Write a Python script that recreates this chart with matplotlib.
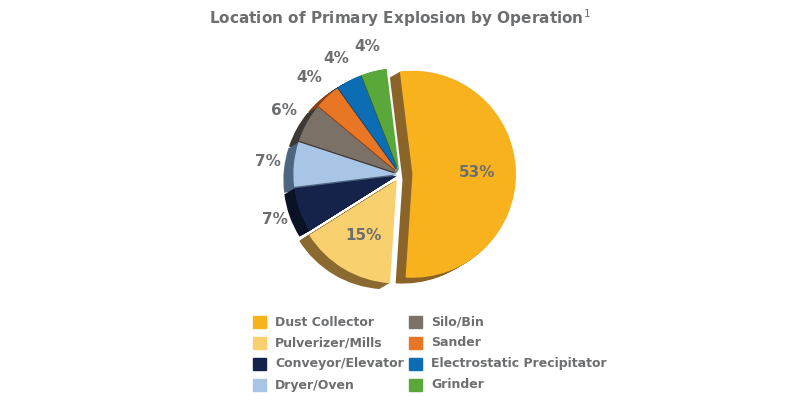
import matplotlib
matplotlib.use("Agg")
import matplotlib.pyplot as plt
import numpy as np
from matplotlib.patches import Rectangle

categories = ["Dust Collector", "Pulverizer/Mills", "Conveyor/Elevator", "Dryer/Oven",
              "Silo/Bin", "Sander", "Electrostatic Precipitator", "Grinder"]
values = [53, 15, 7, 7, 6, 4, 4, 4]
colors = ["#F7B21E", "#F9D06E", "#15224A", "#A9C5E6", "#7B7167", "#E97625", "#0C6DB5", "#5BA83A"]
dark = ["#8A6428", "#8A6A30", "#0B1226", "#4E6580", "#3E3934", "#8A4214", "#08406A", "#2F6320"]
explode = [0.12, 0.06, 0.03, 0.03, 0.03, 0.03, 0.03, 0.03]

fig = plt.figure(figsize=(8, 4), dpi=100)
fig.text(0.5, 0.955, "Location of Primary Explosion by Operation$^1$", ha="center", va="center",
         fontsize=11, fontweight="bold", color="#6d6e70")
ax = fig.add_axes([0.25, 0.24, 0.5, 0.66])
ax.set_aspect("equal")
start = 97
# depth layer
for k in range(8, 0, -1):
    ax.pie(values, colors=dark, explode=explode, startangle=start, counterclock=False,
           center=(-0.012 * k, -0.007 * k), radius=1, wedgeprops=dict(linewidth=0))
ax.pie(values, colors=colors, explode=explode, startangle=start, counterclock=False,
       radius=1, wedgeprops=dict(linewidth=0))
cum = np.cumsum([0] + values[:-1])
for i, v in enumerate(values):
    mid = np.deg2rad(start - (cum[i] + v / 2) * 3.6)
    if v >= 15:
        r = 0.62 + explode[i]
    else:
        r = 1.28
    ax.text(r * np.cos(mid), r * np.sin(mid), f"{v}%", ha="center", va="center",
            fontsize=11, fontweight="bold", color="#6d6e70")
ax.set_xlim(-1.35, 1.35)
ax.set_ylim(-1.25, 1.3)
ax.axis("off")

# legend
for i, c in enumerate(categories):
    col, row = divmod(i, 4)
    x = 0.316 + col * 0.195
    y = 1 - (322 + row * 21) / 400
    fig.patches.append(Rectangle((x, y - 0.016), 0.016, 0.032, transform=fig.transFigure,
                                 color=colors[i]))
    fig.text(x + 0.028, y, c, va="center", ha="left", fontsize=9, fontweight="bold", color="#6d6e70")
fig.savefig("out.png", dpi=100)
